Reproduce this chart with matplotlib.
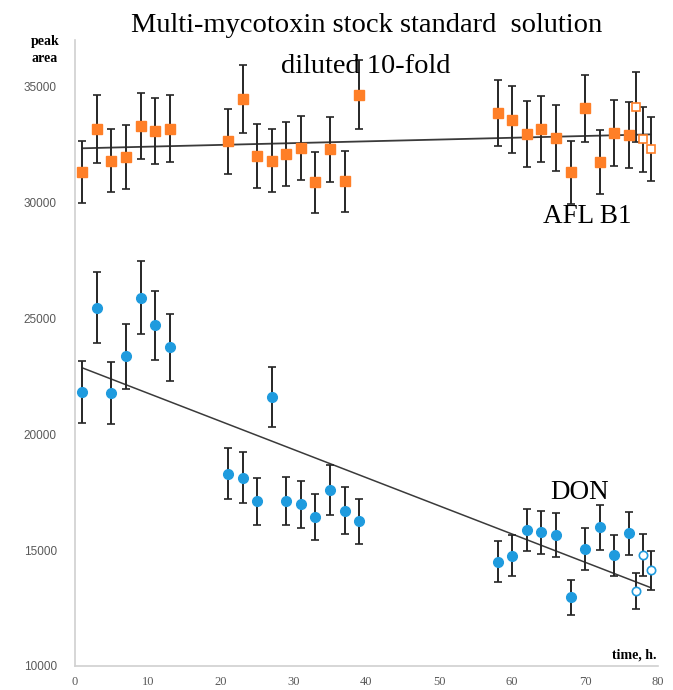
import matplotlib
matplotlib.use("Agg")
import matplotlib.pyplot as plt
import numpy as np

# ---- data ----
afl_t = [1, 3, 5, 7, 9, 11, 13, 21, 23, 25, 27, 29, 31, 33, 35, 37, 39,
         58, 60, 62, 64, 66, 68, 70, 72, 74, 76]
afl_v = [31300, 33160, 31800, 31950, 33280, 33060, 33180, 32630, 34440, 32010,
         31800, 32070, 32340, 30860, 32280, 30900, 34650,
         33840, 33560, 32960, 33175, 32775, 31290, 34050, 31740, 33000, 32900]
afl_e = [1350, 1450, 1350, 1380, 1430, 1420, 1430, 1400, 1470, 1380,
         1370, 1380, 1390, 1330, 1390, 1330, 1480,
         1430, 1440, 1420, 1430, 1410, 1350, 1460, 1370, 1420, 1410]
afl_open_t = [77, 78, 79]
afl_open_v = [34110, 32710, 32290]
afl_open_e = [1500, 1410, 1370]

don_t = [1, 3, 5, 7, 9, 11, 13, 21, 23, 25, 27, 29, 31, 33, 35, 37, 39,
         58, 60, 62, 64, 66, 68, 70, 72, 74, 76]
don_v = [21810, 25450, 21770, 23360, 25890, 24690, 23740, 18290, 18130, 17100,
         21600, 17130, 16970, 16410, 17590, 16700, 16250,
         14500, 14760, 15860, 15760, 15660, 12960, 15040, 15980, 14770, 15730]
don_e = [1340, 1540, 1330, 1400, 1570, 1500, 1430, 1100, 1090, 1020,
         1280, 1030, 1020, 990, 1060, 1000, 970,
         890, 900, 920, 930, 940, 770, 900, 960, 870, 930]
don_open_t = [77, 78, 79]
don_open_v = [13230, 14790, 14130]
don_open_e = [780, 920, 850]

# trend lines (start/end values)
trend_t = [1, 79]
afl_trend = [32330, 32930]
don_trend = [22860, 13380]

title_lines = ["Multi-mycotoxin stock standard  solution", "diluted 10-fold"]
x_ticks = [0, 10, 20, 30, 40, 50, 60, 70, 80]
y_ticks = [10000, 15000, 20000, 25000, 30000, 35000]

orange = "#FF7F27"
blue = "#1F9BDE"
bar_col = "#262626"

fig = plt.figure(figsize=(6.73, 6.90), dpi=100)
ax = fig.add_axes([0.1114, 0.0348, 0.8663, 0.9072])

ekw = dict(ecolor=bar_col, elinewidth=1.4, capsize=3, capthick=1.2, linestyle="none", zorder=2)

ax.plot(trend_t, afl_trend, color="#3a3a3a", lw=1.3, zorder=1)
ax.plot(trend_t, don_trend, color="#3a3a3a", lw=1.1, zorder=1)

ax.errorbar(afl_t, afl_v, yerr=afl_e, fmt="s", color=orange, ms=6.5, mec=orange, **ekw)
ax.errorbar(afl_open_t, afl_open_v, yerr=afl_open_e, fmt="s", color=orange, ms=6,
            mfc="white", mec=orange, mew=1.2, **ekw)
ax.errorbar(don_t, don_v, yerr=don_e, fmt="o", color=blue, ms=7, mec=blue, **ekw)
ax.errorbar(don_open_t, don_open_v, yerr=don_open_e, fmt="o", color=blue, ms=6,
            mfc="white", mec=blue, mew=1.2, **ekw)

ax.set_xlim(0, 80)
ax.set_ylim(10000, 37000)
ax.set_xticks(x_ticks)
ax.set_yticks(y_ticks)
ax.set_xticklabels([str(v) for v in x_ticks])
ax.set_yticklabels([str(v) for v in y_ticks])
ax.tick_params(length=0, colors="#595959")
for lab in ax.get_xticklabels():
    lab.set_family("Liberation Serif")
    lab.set_fontsize(9)
for lab in ax.get_yticklabels():
    lab.set_family("Liberation Sans")
    lab.set_fontsize(8.5)
ax.tick_params(axis="y", pad=13)
ax.tick_params(axis="x", pad=7)

for side in ["top", "right"]:
    ax.spines[side].set_visible(False)
for side in ["left", "bottom"]:
    ax.spines[side].set_color("#d0d0d0")
    ax.spines[side].set_linewidth(1.2)

serif = "Liberation Serif"
fig.text(367 / 673, 1 - 32 / 690, title_lines[0], ha="center", va="baseline",
         fontsize=20.5, family=serif)
fig.text(366 / 673, 1 - 73 / 690, title_lines[1], ha="center", va="baseline",
         fontsize=20.5, family=serif)
fig.text(543 / 673, 1 - 223 / 690, "AFL B1", ha="left", va="baseline", fontsize=19.5,
         family=serif, zorder=5)
fig.text(550 / 673, 1 - 499 / 690, "DON", ha="left", va="baseline", fontsize=19.5,
         family=serif, zorder=5)

fig.text(45 / 673, 1 - 41 / 690, "peak", ha="center", va="center", fontsize=10,
         fontweight="bold", family=serif)
fig.text(45 / 673, 1 - 59 / 690, "area", ha="center", va="center", fontsize=10,
         fontweight="bold", family=serif)
fig.text(657 / 673, 1 - 655 / 690, "time, h.", ha="right", va="center", fontsize=10,
         fontweight="bold", family=serif)

fig.savefig("out.png", dpi=100)
